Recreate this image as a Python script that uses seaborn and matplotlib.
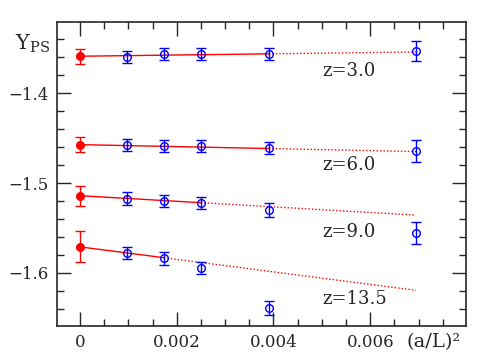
import seaborn as sns
import matplotlib.pyplot as plt
from matplotlib.ticker import MultipleLocator, FixedLocator
import numpy as np

# (a/L)^2 for L/a = 32, 24, 20, 16, 12
x_pts = [1/32**2, 1/24**2, 1/20**2, 1/16**2, 1/12**2]

# continuum values (x = 0) and their errors
z_labels = ['z=3.0', 'z=6.0', 'z=9.0', 'z=13.5']
y_cont = [-1.359, -1.4573, -1.5141, -1.571]
e_cont = [0.0084, 0.0080, 0.0113, 0.0173]

# lattice values per z
y_lat = [
    [-1.3595, -1.3565, -1.3565, -1.3565, -1.3532],
    [-1.4580, -1.4590, -1.4590, -1.4610, -1.4643],
    [-1.5175, -1.5200, -1.5220, -1.5300, -1.5554],
    [-1.5779, -1.5835, -1.5947, -1.6390],
]
e_lat = [
    [0.0068, 0.0067, 0.0065, 0.0067, 0.0110],
    [0.0067, 0.0067, 0.0065, 0.0067, 0.0120],
    [0.0070, 0.0070, 0.0065, 0.0078, 0.0125],
    [0.0065, 0.0072, 0.0067, 0.0080],
]

# fit lines: value at x=0.00694 and end of the fitted (solid) range
y_fit_end = [-1.3543, -1.4650, -1.5357, -1.6193]
x_solid_end = [1/16**2, 1/16**2, 1/20**2, 1/24**2]
label_y = [-1.375, -1.480, -1.5546, -1.6293]

sns.set_style('ticks')
plt.rcParams['font.family'] = ['DejaVu Serif']
plt.rcParams['mathtext.fontset'] = 'dejavuserif'

fig = plt.figure(figsize=(4.91, 3.58), dpi=100)
ax = fig.add_axes([0.116, 0.0894, 0.833, 0.849])

x_end = x_pts[-1]
for i in range(4):
    slope = (y_fit_end[i] - y_cont[i]) / x_end
    xs = np.array([0, x_solid_end[i]])
    ax.plot(xs, y_cont[i] + slope * xs, color='red', lw=1.0, zorder=2)
    xd = np.array([x_solid_end[i], x_end])
    ax.plot(xd, y_cont[i] + slope * xd, color='red', lw=1.0, ls=(0, (1, 1.5)), zorder=2)
    ax.errorbar([0], [y_cont[i]], yerr=[e_cont[i]], fmt='o', color='red',
                ms=5.5, capsize=3.5, elinewidth=1.0, capthick=1.0, zorder=3)
    n = len(y_lat[i])
    ax.errorbar(x_pts[:n], y_lat[i], yerr=e_lat[i], fmt='o', mfc='none', mec='blue',
                color='blue', ms=5.5, mew=1.0, capsize=3.5, elinewidth=1.0,
                capthick=1.0, zorder=3)
    ax.text(0.0050, label_y[i], z_labels[i], fontsize=13, ha='left', va='center')

ax.set_xlim(-0.000476, 0.00798)
ax.set_ylim(-1.659, -1.321)

ax.xaxis.set_major_locator(FixedLocator([0, 0.002, 0.004, 0.006, 0.008]))
ax.xaxis.set_minor_locator(MultipleLocator(0.0005))
ax.yaxis.set_major_locator(MultipleLocator(0.1))
ax.yaxis.set_minor_locator(MultipleLocator(0.02))
ax.set_xticklabels(['0', '0.002', '0.004', '0.006', ''])
ax.set_yticklabels([f'\u2212{abs(v):.1f}' for v in ax.get_yticks()])
ax.tick_params(which='major', direction='in', length=10, width=1, top=True, right=True,
               labelsize=12, pad=6)
ax.tick_params(which='minor', direction='in', length=5, width=1, top=True, right=True)
for s in ax.spines.values():
    s.set_linewidth(1.2)

fig.text(434 / 491, 1 - 342 / 358, '(a/L)\u00b2', fontsize=14, ha='center', va='center')
fig.text(33 / 491, 1 - 44 / 358, r'$\mathrm{Y}_{\mathrm{PS}}$', fontsize=15, ha='center', va='center')

fig.savefig('out.png', dpi=100)
